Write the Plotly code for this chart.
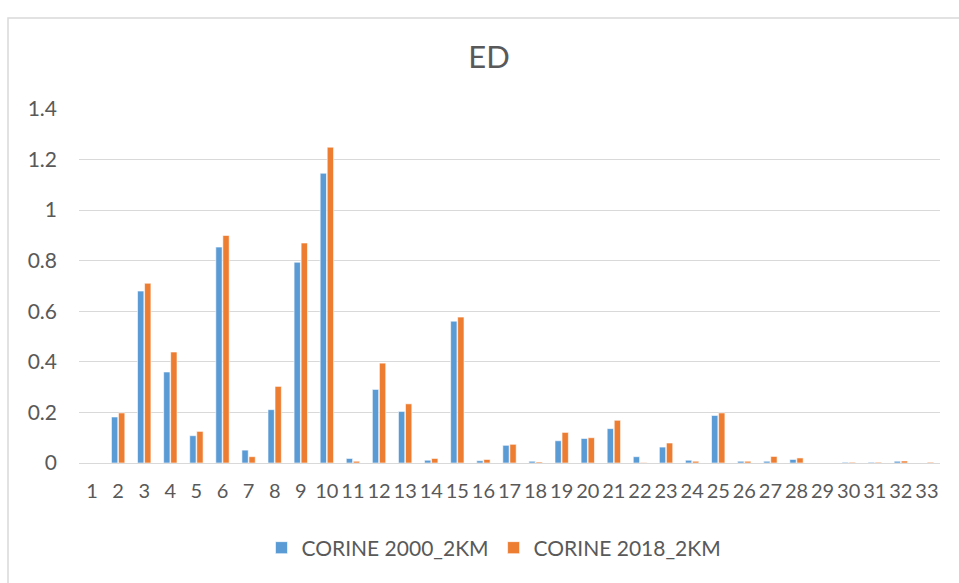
import plotly.graph_objects as go

categories = [str(i) for i in range(1, 34)]
corine_2000 = [0, 0.182, 0.68, 0.36, 0.108, 0.854, 0.051, 0.211, 0.794, 1.146,
               0.018, 0.291, 0.204, 0.011, 0.561, 0.009, 0.07, 0.007, 0.088, 0.097,
               0.136, 0.025, 0.063, 0.011, 0.188, 0.007, 0.007, 0.014, 0, 0.003,
               0.003, 0.007, 0]
corine_2018 = [0, 0.198, 0.711, 0.439, 0.125, 0.90, 0.025, 0.303, 0.87, 1.249,
               0.007, 0.395, 0.234, 0.018, 0.577, 0.014, 0.074, 0.004, 0.121, 0.10,
               0.169, 0.002, 0.079, 0.007, 0.198, 0.007, 0.026, 0.02, 0, 0.003,
               0.003, 0.008, 0.003]
y_ticks = [0, 0.2, 0.4, 0.6, 0.8, 1, 1.2, 1.4]
y_tick_text = ["0", "0.2", "0.4", "0.6", "0.8", "1", "1.2", "1.4"]

FONT = "Lato, 'Open Sans', sans-serif"
TXT = "#595959"

fig = go.Figure()
fig.add_trace(go.Bar(x=categories, y=corine_2000, name="CORINE 2000_2KM",
                     marker=dict(color="#5B9BD5", line=dict(color="white", width=0.6))))
fig.add_trace(go.Bar(x=categories, y=corine_2018, name="CORINE 2018_2KM",
                     marker=dict(color="#ED7D31", line=dict(color="white", width=0.6))))

W, H = 959, 583
ml, mr, mt, mb = 79, 19, 109, 120
pw, ph = W - ml - mr, H - mt - mb

def px(x):
    return (x - ml) / pw

def py(y):
    return (H - mb - y) / ph

fig.update_layout(
    width=W, height=H,
    margin=dict(l=ml, r=mr, t=mt, b=mb),
    paper_bgcolor="white", plot_bgcolor="white",
    title=dict(text="ED", x=px(489), xref="paper", xanchor="center",
               y=1 - 57 / H, yanchor="middle",
               font=dict(family=FONT, size=31, color=TXT)),
    barmode="group", bargap=0.46, bargroupgap=0.1,
    font=dict(family=FONT, size=21, color=TXT),
    xaxis=dict(type="category", showgrid=False, showline=False, ticks="",
               ticklabelstandoff=14,
               tickfont=dict(family=FONT, size=20, color=TXT)),
    yaxis=dict(range=[0, 1.4], tickvals=y_ticks, ticktext=y_tick_text,
               showgrid=True, gridcolor="#D9D9D9", gridwidth=1,
               zeroline=True, zerolinecolor="#D9D9D9", zerolinewidth=1,
               showline=False, ticks="", ticklabelstandoff=21,
               tickfont=dict(family=FONT, size=21, color=TXT)),
    legend=dict(orientation="h", x=px(494), xanchor="center", y=py(548), yanchor="middle",
                font=dict(family=FONT, size=21, color=TXT),
                itemwidth=30, traceorder="normal"),
    showlegend=True,
)

fig.add_shape(type="rect", xref="paper", yref="paper",
              x0=px(8), x1=px(990), y0=py(620), y1=py(18),
              line=dict(color="#D9D9D9", width=1.5), fillcolor="rgba(0,0,0,0)",
              layer="below")

fig.write_html("out.html")
